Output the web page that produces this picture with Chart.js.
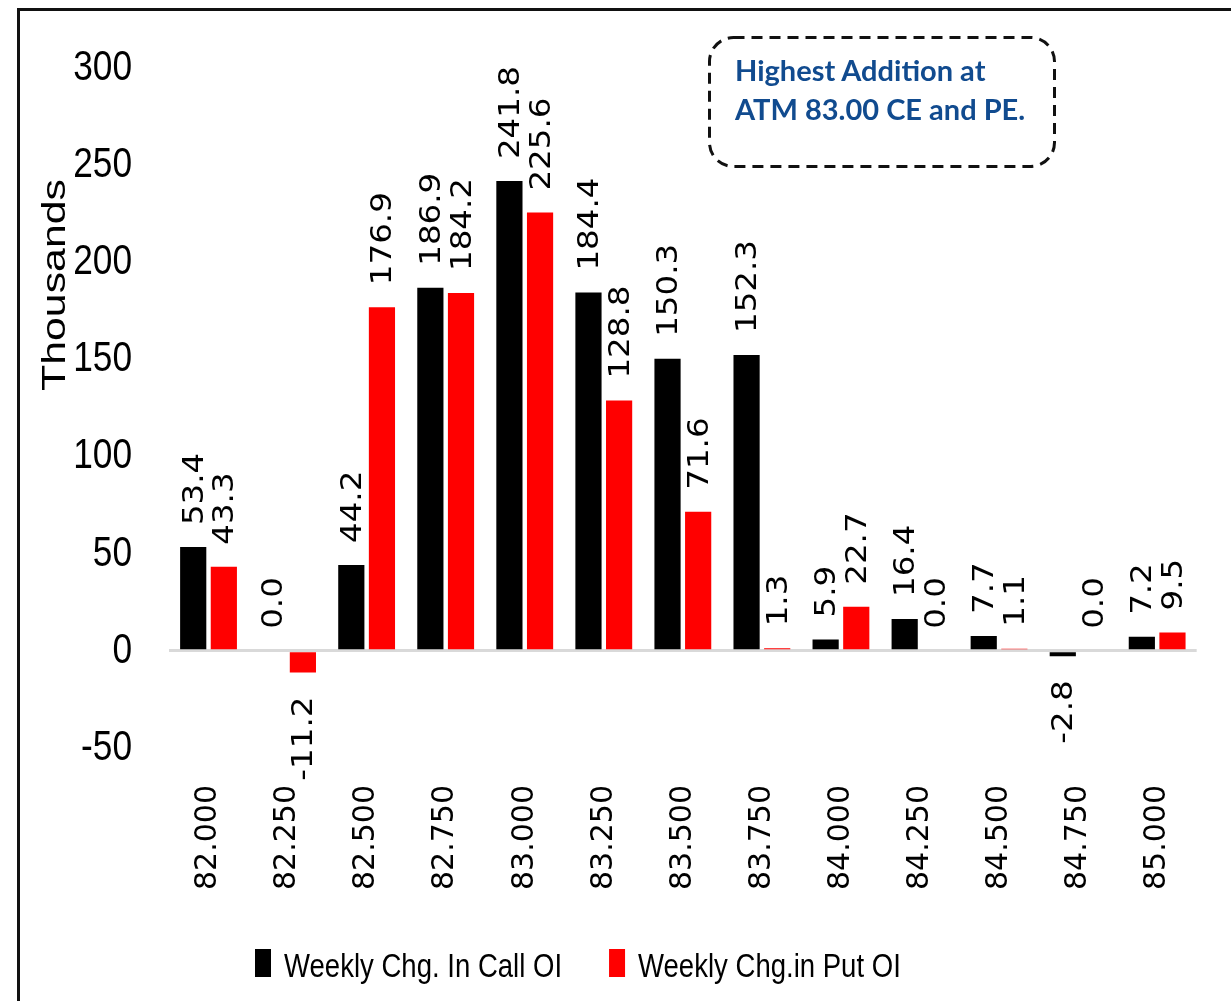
<!DOCTYPE html>
<html>
<head>
<meta charset="utf-8">
<script src="https://cdn.jsdelivr.net/npm/chart.js@4.4.1/dist/chart.umd.min.js"></script>
<style>
  html, body { margin: 0; padding: 0; background: #fff; overflow: hidden; }
  #wrap { position: relative; width: 1231px; height: 1001px; }
  #grafOI { position: absolute; left: 0; top: 0; }
  #frame {
    position: absolute; left: 17px; top: 8px; width: 1400px; height: 1200px;
    border-left: 3px solid #111; border-top: 3px solid #111;
  }
  #nota { position: absolute; left: 708px; top: 36px; width: 348px; height: 132px; }
  #nota svg { position: absolute; left: 0; top: 0; }
  #nota p {
    position: absolute; left: 27px; margin: 0; white-space: nowrap;
    font: bold 29px Lato, sans-serif; line-height: 28px; color: #114b8f;
  }
</style>
</head>
<body>
<div id="wrap">
  <canvas id="grafOI" width="1231" height="1001"></canvas>
  <div id="frame"></div>
  <div id="nota">
    <svg width="348" height="132">
      <rect x="1.5" y="1.5" width="345" height="129" rx="24" ry="24"
            fill="none" stroke="#111" stroke-width="3" stroke-dasharray="11 7"/>
    </svg>
    <p style="top:20px">Highest Addition at</p>
    <p style="top:59px">ATM 83.00 CE and PE.</p>
  </div>
</div>

<script>
// strikes e variação semanal de OI (em milhares)
const strikes = ["82.000", "82.250", "82.500", "82.750", "83.000", "83.250", "83.500",
                 "83.750", "84.000", "84.250", "84.500", "84.750", "85.000"];
const callOI = [53.4, 0.0, 44.2, 186.9, 241.8, 184.4, 150.3, 152.3, 5.9, 16.4, 7.7, -2.8, 7.2];
const putOI  = [43.3, -11.2, 176.9, 184.2, 225.6, 128.8, 71.6, 1.3, 22.7, 0.0, 1.1, 0.0, 9.5];
const yMin = -50, yMax = 300, yStep = 50;

/* rótulos das barras, ticks do eixo Y (fonte estreita), título e legenda */
const rotulos = {
  id: "rotulos",
  afterDatasetsDraw(chart) {
    const ctx = chart.ctx;
    ctx.save();
    ctx.fillStyle = "#000";

    // valores girados acima/abaixo de cada barra
    ctx.font = "29px 'DejaVu Sans'";
    ctx.textBaseline = "middle";
    chart.data.datasets.forEach((ds, i) => {
      chart.getDatasetMeta(i).data.forEach((bar, j) => {
        const v = ds.data[j];
        const neg = v < 0;
        ctx.save();
        ctx.translate(bar.x + 2, neg ? bar.y + 24 : bar.y - 22);
        ctx.rotate(-Math.PI / 2);
        ctx.scale(1.12, 1);
        ctx.textAlign = neg ? "right" : "left";
        ctx.fillText(v.toFixed(1), 0, 0);
        ctx.restore();
      });
    });

    // ticks do eixo Y, comprimidos na horizontal
    const ys = chart.scales.y;
    ctx.font = "43px 'Liberation Sans'";
    ctx.textAlign = "right";
    ys.ticks.forEach(t => {
      ctx.save();
      ctx.translate(ys.right - 37, ys.getPixelForValue(t.value));
      ctx.scale(0.82, 1);
      ctx.fillText(t.label, 0, 0);
      ctx.restore();
    });

    // título do eixo
    ctx.save();
    ctx.translate(56, 285);
    ctx.rotate(-Math.PI / 2);
    ctx.scale(1.26, 1);
    ctx.font = "34px 'Liberation Sans'";
    ctx.textAlign = "center";
    ctx.fillText("Thousands", 0, 0);
    ctx.restore();

    // legenda
    ctx.font = "34px 'Liberation Sans'";
    ctx.textAlign = "left";
    ctx.textBaseline = "alphabetic";
    let x = 255;
    chart.data.datasets.forEach(ds => {
      ctx.fillStyle = ds.backgroundColor;
      ctx.fillRect(x, 949, 16, 28);
      ctx.fillStyle = "#000";
      const w = ctx.measureText(ds.label).width * 0.81;
      ctx.save();
      ctx.translate(x + 29, 977);
      ctx.scale(0.81, 1);
      ctx.fillText(ds.label, 0, 0);
      ctx.restore();
      x += 29 + w + 47;
    });
    ctx.restore();
  }
};

new Chart(document.getElementById("grafOI"), {
  type: "bar",
  plugins: [rotulos],
  data: {
    labels: strikes,
    datasets: [
      { label: "Weekly Chg. In Call OI", data: callOI, backgroundColor: "#000000" },
      { label: "Weekly Chg.in Put OI", data: putOI, backgroundColor: "#ff0000" }
    ]
  },
  options: {
    responsive: false,
    animation: false,
    devicePixelRatio: 1,
    barPercentage: 0.855,
    categoryPercentage: 0.775,
    layout: { padding: { left: 0, top: 68, right: 22, bottom: 0 } },
    plugins: { legend: { display: false }, tooltip: { enabled: false } },
    scales: {
      x: {
        grid: { display: false, drawTicks: false },
        border: { display: false },
        ticks: {
          color: "#000",
          font: { family: "DejaVu Sans", size: 30 },
          minRotation: 90, maxRotation: 90,
          padding: 37
        },
        afterFit: s => { s.height = 253; }
      },
      y: {
        min: yMin, max: yMax,
        grid: {
          drawTicks: false,
          lineWidth: 3,
          color: c => c.tick.value === 0 ? "#d9d9d9" : "transparent"
        },
        border: { display: false },
        ticks: { stepSize: yStep, display: false },
        afterFit: s => { s.width = 169; }
      }
    }
  }
});
</script>
</body>
</html>
